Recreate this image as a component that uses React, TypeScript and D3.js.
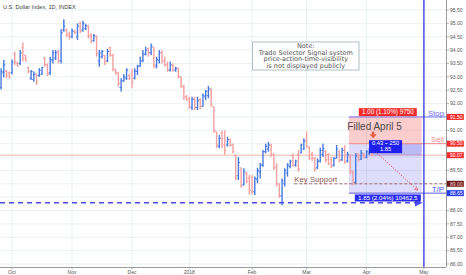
import React from "react";
import * as d3 from "d3";

// ---- data (U.S. Dollar Index, daily OHLC, from 2017-09-26) ----
const startDate = new Date(2017, 8, 26);
const openP = [92.6,93.15,93.2,93.15,93.15,93.85,93.5,93.5,94.1,93.8,93.35,92.95,92.9,93.1,93.05,93.1,93.7,93.45,93.15,93.6,93.7,93.95,93.6,94.75,94.75,94.6,94.5,94.72,94.5,95.0,94.75,94.8,94.9,94.55,94.35,94.5,93.6,93.75,93.8,93.6,94.1,93.8,93.26,93.15,92.6,92.85,92.95,93.05,93.1,92.95,93.2,93.4,93.6,93.85,94.05,93.9,94.1,93.4,93.6,93.9,93.6,93.45,93.25,93.45,93.25,93.3,93.0,92.65,92.25,92.2,91.85,92.2,91.85,92.15,91.9,92.25,92.3,92.5,91.88,90.95,90.4,90.9,90.7,90.45,90.65,90.45,90.05,89.3,89.6,88.95,89.4,89.2,89.25,88.7,89.15,89.45,89.7,90.2,90.3,90.45,90.1,89.6,89.0,88.55,89.0,89.4,89.65,90.05,89.7,90.1,90.15,90.3,90.6,90.35,90.1,89.95,89.6,89.85,90.1,90.2,90.1,89.9,89.7,89.95,90.2,89.9,90.3,89.85,90.0,89.45,89.05,90.1,89.92,90.12,90.0,90.15,90.22];
const highP = [93.32,93.63,93.26,93.2,93.65,93.94,93.57,94.0,94.28,93.82,93.38,93.26,93.2,93.13,93.32,93.38,93.75,93.5,93.75,94.0,94.0,94.0,94.78,95.15,94.81,94.69,94.81,94.75,95.0,95.06,95.1,94.98,94.94,94.63,94.6,94.55,94.0,94.0,93.82,94.05,94.13,93.85,93.3,93.19,92.95,93.1,93.32,93.1,93.3,93.32,93.45,93.75,94.0,94.13,94.1,94.25,94.12,93.75,94.0,94.0,93.75,93.57,93.57,93.5,93.38,93.35,93.0,92.7,92.32,92.25,92.26,92.26,92.26,92.2,92.38,92.51,92.66,92.57,91.9,90.95,90.83,91.0,91.0,90.76,90.7,90.51,90.08,90.0,89.6,89.58,89.45,89.33,89.33,89.27,89.6,89.78,90.26,90.5,90.57,90.5,90.14,89.77,89.02,89.2,89.58,89.77,89.9,90.14,89.9,90.26,90.5,90.7,90.95,90.4,90.2,90.0,89.95,90.35,90.5,90.25,90.15,90.0,90.0,90.45,90.25,90.35,90.45,90.2,90.1,89.5,90.15,90.14,90.26,90.14,90.26,90.33,90.26];
const lowP = [92.53,92.98,92.94,92.94,93.1,93.44,93.38,93.44,93.57,93.57,93.13,92.88,92.82,92.69,93.0,93.07,93.38,93.03,93.07,93.5,93.63,93.5,93.5,94.69,94.5,94.4,94.44,94.6,94.38,94.63,94.69,94.75,94.44,94.25,94.31,93.75,93.38,93.69,93.44,93.55,93.75,93.2,93.07,92.63,92.45,92.82,92.88,92.88,92.57,92.9,93.07,93.38,93.55,93.8,93.75,93.82,93.32,93.32,93.5,93.5,93.38,93.19,93.2,93.19,93.19,92.94,92.57,92.13,92.1,91.8,91.76,91.76,91.76,91.8,91.88,92.13,92.2,91.88,90.9,90.33,90.33,90.33,90.08,90.39,90.39,90.14,89.14,89.14,88.85,88.95,89.02,88.6,88.6,88.58,89.02,89.2,89.64,90.14,90.2,90.0,89.52,88.9,88.47,88.2,88.9,89.27,89.58,89.64,89.64,89.45,90.14,90.26,90.35,89.89,89.85,89.45,89.55,89.8,90.0,89.8,89.7,89.58,89.65,89.95,89.8,89.85,89.75,89.8,89.35,88.95,89.0,89.83,89.89,89.95,89.95,90.07,90.03];
const closeP = [93.2,93.45,93.05,93.0,93.55,93.55,93.42,93.9,93.7,93.62,93.2,93.2,93.1,92.8,93.25,93.35,93.45,93.1,93.65,93.9,93.9,93.6,94.65,94.9,94.55,94.5,94.7,94.65,94.9,94.7,95.0,94.9,94.5,94.35,94.55,93.85,93.9,93.95,93.55,93.95,93.82,93.3,93.15,92.75,92.85,93.0,93.25,92.95,92.8,93.22,93.4,93.6,93.85,94.0,93.9,94.15,93.45,93.65,93.9,93.6,93.45,93.25,93.45,93.3,93.32,93.0,92.65,92.25,92.15,91.9,92.15,91.85,92.1,91.9,92.3,92.45,92.55,91.95,91.0,90.45,90.7,90.45,90.25,90.65,90.45,90.2,89.2,89.8,88.95,89.45,89.1,88.75,88.7,89.2,89.5,89.7,90.2,90.4,90.45,90.1,89.6,89.0,88.55,89.1,89.5,89.7,89.85,89.7,89.85,89.55,90.45,90.6,90.4,89.95,89.95,89.55,89.85,90.25,90.3,89.9,89.75,89.65,89.95,90.3,89.85,90.25,89.8,90.1,89.45,89.05,90.05,89.9,90.15,90.0,90.2,90.25,90.07];

const monthLabels = ["Oct", "Nov", "Dec", "2018", "Feb", "Mar", "Apr", "May"];
const priceTicks = [86, 86.5, 87, 87.5, 88, 88.5, 89, 89.5, 90, 90.5, 91, 91.5, 92, 92.5, 93, 93.5, 94, 94.5, 95, 95.5];

// trade annotation levels
const stopLevel = 91.5;
const entryLevel = 90.5;
const lastPrice = 90.07;
const supportLevel = 89.0;
const targetLevel = 88.65;
const rayLevel = 88.29;
const positionStart = 127.5;
const positionEnd = 154.2;
const supportStart = 107.5;
const stopLabel = "1.00 (1.10%) 9750";
const targetLabel = "1.85 (2.04%) 10462.5";
const openPnl = ["0.43 ~ 250", "1.85"];
const noteLines = ["Note:", "Trade Selector Signal system", "price-action-time-visibility", "is not displayed publicly"];

const FONT = "'Liberation Sans', Arial, sans-serif";
const NOTE_FONT = "'DejaVu Sans', Verdana, sans-serif";

export default function App() {
  const W = 466, H = 275;
  const plotRight = 446, plotBottom = 267;
  const n = closeP.length;
  const fillIndex = n - 1;

  const days = d3.timeDay
    .range(startDate, new Date(2018, 5, 1))
    .filter((d) => d.getDay() !== 0 && d.getDay() !== 6);
  const monthTicks = monthLabels.map((lab, k) => {
    const m = new Date(2017, 9 + k, 1);
    return { lab, idx: days.findIndex((d) => d >= m) };
  });
  const mayIdx = monthTicks[monthTicks.length - 1].idx;

  const x = d3.scaleLinear().domain([-0.4, 163.1]).range([0, plotRight]);
  const y = d3.scaleLinear().domain([86, 95.5]).range([264, 10]);

  const up = "#4679e0";
  const down = "#f4a0a0";
  const grid = "#ebf1f1";

  const xL = x(positionStart), xR = x(positionEnd);
  const xMid = (xL + xR) / 2;
  const xFill = x(fillIndex);

  const hidden = [88.5, 89, 90, 90.5, 91.5];
  const axisBoxes = [
    { v: stopLevel, c: "#f22b2b", t: "#fff" },
    { v: entryLevel, c: "#f22b2b", t: "#fff" },
    { v: lastPrice, c: "#f22b2b", t: "#fff" },
    { v: supportLevel, c: "#6e1c1c", t: "#f0d8d8" },
    { v: targetLevel, c: "#2a3cf0", t: "#fff" },
  ];

  return (
    <svg width={W} height={H} style={{ position: "absolute", left: 0, top: 0, background: "#fff" }} fontFamily={FONT}>
      <rect x={0} y={0} width={W} height={H} fill="#fff" />
      {/* grid */}
      {priceTicks.map((p) => (
        <line key={"h" + p} x1={0} x2={plotRight} y1={y(p)} y2={y(p)} stroke={grid} strokeWidth={1} />
      ))}
      {monthTicks.map((m) => (
        <line key={"v" + m.lab} x1={x(m.idx)} x2={x(m.idx)} y1={0} y2={plotBottom} stroke={grid} strokeWidth={1} />
      ))}

      {/* last price line */}
      <line x1={0} x2={plotRight} y1={y(lastPrice)} y2={y(lastPrice)} stroke="#f5b5b0" strokeWidth={1} />

      {/* position tool zones */}
      <rect x={xL} y={y(stopLevel)} width={xR - xL} height={y(entryLevel) - y(stopLevel)} fill="rgba(242,60,60,0.26)" />
      <rect x={xL} y={y(entryLevel)} width={xR - xL} height={y(targetLevel) - y(entryLevel)} fill="rgba(90,90,240,0.2)" />
      <rect x={xFill} y={y(entryLevel)} width={xR - xFill} height={y(lastPrice) - y(entryLevel)} fill="rgba(60,60,235,0.22)" />

      {/* bars */}
      {closeP.map((c, i) => {
        const col = c >= openP[i] ? up : down;
        const cx = x(i);
        return (
          <g key={"b" + i} stroke={col} strokeWidth={1.4}>
            <line x1={cx} x2={cx} y1={y(highP[i])} y2={y(lowP[i])} />
            <line x1={cx - 1.6} x2={cx} y1={y(openP[i])} y2={y(openP[i])} strokeWidth={1} />
            <line x1={cx} x2={cx + 1.6} y1={y(c)} y2={y(c)} strokeWidth={1} />
          </g>
        );
      })}

      {/* position lines */}
      <line x1={xL} x2={plotRight} y1={y(stopLevel)} y2={y(stopLevel)} stroke="#7070f0" strokeWidth={1} />
      <line x1={xL} x2={plotRight} y1={y(entryLevel)} y2={y(entryLevel)} stroke="#f28a8a" strokeWidth={1} />
      <line x1={xL} x2={plotRight} y1={y(targetLevel)} y2={y(targetLevel)} stroke="#5a5af0" strokeWidth={1} />

      {/* key support */}
      <line x1={x(supportStart)} x2={plotRight} y1={y(supportLevel)} y2={y(supportLevel)} stroke="#a86a6a" strokeWidth={1} strokeDasharray="3,2" />
      <text x={x(supportStart)} y={y(supportLevel) - 2} fontSize={7.8} fill="#8e5a55">Key Support</text>

      {/* blue dashed ray */}
      <defs>
        <marker id="ah" viewBox="0 0 10 10" refX="9" refY="5" markerWidth="5" markerHeight="5" orient="auto">
          <path d="M0,0 L10,5 L0,10 z" fill="#4a4af0" />
        </marker>
        <marker id="ahr" viewBox="0 0 10 10" refX="9" refY="5" markerWidth="5" markerHeight="5" orient="auto">
          <path d="M0,1 L10,5 L0,9" fill="none" stroke="#e45a5a" strokeWidth={1.5} />
        </marker>
      </defs>
      <line x1={0} x2={xR} y1={y(rayLevel)} y2={y(rayLevel)} stroke="#4a4af0" strokeWidth={1.6} strokeDasharray="5,4" markerEnd="url(#ah)" />

      {/* projection arrow */}
      <line x1={xFill + 5} y1={y(lastPrice) - 2} x2={xR - 4} y2={y(targetLevel) - 3} stroke="#e45a5a" strokeWidth={0.9} strokeDasharray="1.5,1.2" markerEnd="url(#ahr)" />

      {/* labels in position tool */}
      <rect x={xMid + 2.5 - 29} y={y(stopLevel) - 8.8} width={58} height={8} fill="#f22b2b" />
      <text x={xMid + 2.5} y={y(stopLevel) - 2.6} fontSize={6.3} fill="#fff" textAnchor="middle">{stopLabel}</text>

      <rect x={xMid + 2.5 - 33} y={y(targetLevel) + 1.3} width={66} height={7} fill="#2a2af0" />
      <text x={xMid + 2.5} y={y(targetLevel) + 6.9} fontSize={6.2} fill="#fff" textAnchor="middle">{targetLabel}</text>

      <rect x={xFill - 3} y={y(entryLevel) - 3.5} width={33} height={13} fill="#1f1ff0" />
      <text x={xFill + 13.5} y={y(entryLevel) + 1.8} fontSize={5.7} fill="#fff" textAnchor="middle">{openPnl[0]}</text>
      <text x={xFill + 13.5} y={y(entryLevel) + 7.6} fontSize={5.7} fill="#fff" textAnchor="middle">{openPnl[1]}</text>

      <text x={xFill + 2.5} y={y(stopLevel) + 13} fontSize={10} fill="#4a4a4a" textAnchor="middle">Filled April 5</text>
      <g fill="#e8583a">
        <rect x={xFill - 0.2} y={y(stopLevel) + 14.7} width={2.4} height={2.6} />
        <path d={`M${xFill - 2.4},${y(stopLevel) + 17.2} L${xFill + 4.6},${y(stopLevel) + 17.2} L${xFill + 1.1},${y(stopLevel) + 21.2} Z`} />
      </g>

      <text x={444} y={y(stopLevel) - 1} fontSize={7.8} fill="#6a6af0" textAnchor="end">Stop</text>
      <text x={444} y={y(entryLevel) - 1.5} fontSize={7.8} fill="#f08a8a" textAnchor="end">Sell</text>
      <text x={444} y={y(targetLevel) - 1} fontSize={7.8} fill="#4a4af0" textAnchor="end">T/P</text>

      {/* May vertical line */}
      <line x1={x(mayIdx)} x2={x(mayIdx)} y1={0} y2={plotBottom} stroke="#3535e0" strokeWidth={1.3} />

      {/* note */}
      <rect x={252.5} y={42} width={106.5} height={28} fill="#fff" stroke="#9fb0b4" strokeWidth={0.8} />
      {noteLines.map((t, k) => (
        <text key={t} x={305.8} y={48 + k * 6.6} fontSize={6.5} fill="#555" textAnchor="middle" fontFamily={NOTE_FONT}>{t}</text>
      ))}

      {/* title */}
      <text x={3} y={8.8} fontSize={5.6} fill="#444">U.S. Dollar Index, 1D, INDEX</text>

      {/* axes */}
      <line x1={plotRight + 0.5} x2={plotRight + 0.5} y1={0} y2={plotBottom} stroke="#9a9a9a" strokeWidth={1} />
      <line x1={0} x2={plotRight} y1={plotBottom + 0.5} y2={plotBottom + 0.5} stroke="#9a9a9a" strokeWidth={1} />
      {priceTicks.filter((p) => !hidden.includes(p)).map((p) => (
        <g key={"t" + p}>
          <line x1={plotRight} x2={plotRight + 3} y1={y(p)} y2={y(p)} stroke="#999" strokeWidth={0.7} />
          <text x={450} y={y(p) + 1.8} fontSize={5} fill="#555">{p.toFixed(2)}</text>
        </g>
      ))}
      {axisBoxes.map((b) => (
        <g key={"ab" + b.v}>
          <rect x={plotRight + 0.8} y={y(b.v) - 3} width={17} height={6} fill={b.c} />
          <text x={450} y={y(b.v) + 1.8} fontSize={5} fill={b.t}>{b.v.toFixed(2)}</text>
        </g>
      ))}
      {monthTicks.map((m) => (
        <g key={"m" + m.lab}>
          <line x1={x(m.idx)} x2={x(m.idx)} y1={plotBottom} y2={plotBottom + 2.5} stroke="#999" strokeWidth={0.7} />
          <text x={x(m.idx)} y={274} fontSize={5} fill="#555" textAnchor="middle">{m.lab}</text>
        </g>
      ))}
    </svg>
  );
}
